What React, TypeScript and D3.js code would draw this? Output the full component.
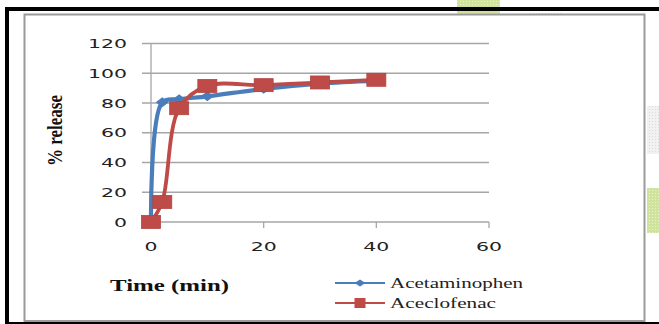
import React from "react";
import * as d3 from "d3";

const times = [0, 2, 5, 10, 20, 30, 40];
const acetaminophen = [0, 80.5, 82.5, 84.5, 89.5, 93, 95];
const aceclofenac = [0, 13.5, 76.5, 91.5, 92, 93.8, 95.6];
const yTicks = [0, 20, 40, 60, 80, 100, 120];
const xTicks = [0, 20, 40, 60];
const seriesNames = ["Acetaminophen", "Aceclofenac"];

const W = 659;
const H = 324;
const BLUE = "#4a7ebb";
const RED = "#be4b48";
const GRID = "#a6a6a6";

export default function App() {
  const x = d3.scaleLinear().domain([0, 60]).range([151, 489]);
  const y = d3.scaleLinear().domain([0, 120]).range([222, 43.5]);

  const line = d3
    .line<number>()
    .x((_, i) => x(times[i]))
    .y((d) => y(d))
    .curve(d3.curveCatmullRom.alpha(0.5));

  const digitW = 13;

  return (
    <svg
      width={W}
      height={H}
      style={{ position: "absolute", left: 0, top: 0, background: "#fff" }}
    >
      <defs>
        <pattern id="greenDots" width="3" height="3" patternUnits="userSpaceOnUse">
          <rect width="3" height="3" fill="#cfe39c" />
          <rect x="1" y="1" width="1" height="1" fill="#e8f2cf" />
        </pattern>
        <pattern id="grayDots" width="3" height="3" patternUnits="userSpaceOnUse">
          <rect width="3" height="3" fill="#f1f1f1" />
          <rect x="1" y="1" width="1" height="1" fill="#dcdcdc" />
        </pattern>
      </defs>

      {/* page decorations around the frame */}
      <rect x={457} y={0} width={43} height={14} fill="url(#greenDots)" />
      <rect x={647} y={188} width={12} height={45} fill="url(#greenDots)" />
      <rect x={647} y={106} width={12} height={48} fill="url(#grayDots)" />
      <line x1={530} x2={562} y1={13.5} y2={13.5} stroke="#d8d8d8" strokeDasharray="1 2" />

      {/* outer black frame */}
      <rect x={5} y={7} width={W - 5} height={4} fill="#000" />
      <rect x={5} y={7} width={4} height={H - 7} fill="#000" />
      <rect x={5} y={322} width={W - 5} height={2} fill="#000" />

      {/* chart area border */}
      <rect x={24.5} y={14.5} width={620} height={306.5} fill="#fff" stroke="#9a9a9a" strokeWidth={2} />

      {/* gridlines */}
      {yTicks.map((t) => (
        <line key={t} x1={142} x2={489} y1={y(t)} y2={y(t)} stroke={GRID} strokeWidth={1.3} />
      ))}
      {/* value axis line */}
      <line x1={x(0)} x2={x(0)} y1={y(120)} y2={y(0) + 6} stroke={GRID} strokeWidth={1.3} />
      {xTicks.map((t) => (
        <line key={t} x1={x(t)} x2={x(t)} y1={y(0)} y2={y(0) + 6} stroke={GRID} strokeWidth={1.3} />
      ))}

      {/* tick labels */}
      {yTicks.map((t) => {
        const s = String(t);
        return (
          <text
            key={t}
            x={127 - s.length * digitW}
            y={y(t) + 4.7}
            fontFamily="DejaVu Sans"
            fontSize={13}
            fill="#222"
            textLength={s.length * digitW}
            lengthAdjust="spacingAndGlyphs"
          >
            {s}
          </text>
        );
      })}
      {xTicks.map((t) => {
        const s = String(t);
        const w = s.length * digitW;
        return (
          <text
            key={t}
            x={x(t) - w / 2}
            y={251}
            fontFamily="DejaVu Sans"
            fontSize={13}
            fill="#222"
            textLength={w}
            lengthAdjust="spacingAndGlyphs"
          >
            {s}
          </text>
        );
      })}

      {/* axis titles */}
      <text
        x={110}
        y={291}
        fontFamily="Liberation Serif"
        fontWeight="bold"
        fontSize={16}
        fill="#111"
        textLength={119}
        lengthAdjust="spacingAndGlyphs"
      >
        Time (min)
      </text>
      <text
        transform="translate(62,166) rotate(-90)"
        x={0}
        y={0}
        fontFamily="Liberation Serif"
        fontWeight="bold"
        fontSize={22}
        fill="#111"
        textLength={71}
        lengthAdjust="spacingAndGlyphs"
      >
        % release
      </text>

      {/* series lines */}
      <path d={line(acetaminophen) || ""} fill="none" stroke={BLUE} strokeWidth={4.2} strokeLinejoin="round" />
      {acetaminophen.map((v, i) => {
        const cx = x(times[i]);
        const cy = y(v);
        return (
          <path
            key={i}
            d={`M${cx - 6.5},${cy} L${cx},${cy - 5} L${cx + 6.5},${cy} L${cx},${cy + 5} Z`}
            fill={BLUE}
          />
        );
      })}
      <path d={line(aceclofenac) || ""} fill="none" stroke={RED} strokeWidth={3.8} strokeLinejoin="round" />
      {aceclofenac.map((v, i) => (
        <rect
          key={i}
          x={x(times[i]) - 9.5}
          y={y(v) - 6.5}
          width={19}
          height={13}
          fill={RED}
          stroke="#b04542"
          strokeWidth={0.8}
        />
      ))}

      {/* legend */}
      <line x1={335} x2={385} y1={283} y2={283} stroke={BLUE} strokeWidth={2} />
      <path d="M354.5,283 L360,279.5 L365.5,283 L360,286.5 Z" fill={BLUE} />
      <text
        x={390}
        y={288}
        fontFamily="Liberation Serif"
        fontSize={15}
        fill="#222"
        textLength={133}
        lengthAdjust="spacingAndGlyphs"
      >
        {seriesNames[0]}
      </text>
      <line x1={335} x2={385} y1={303} y2={303} stroke={RED} strokeWidth={2} />
      <rect x={354.5} y={298} width={11} height={10} fill={RED} />
      <text
        x={390}
        y={308}
        fontFamily="Liberation Serif"
        fontSize={15}
        fill="#222"
        textLength={106}
        lengthAdjust="spacingAndGlyphs"
      >
        {seriesNames[1]}
      </text>
    </svg>
  );
}
